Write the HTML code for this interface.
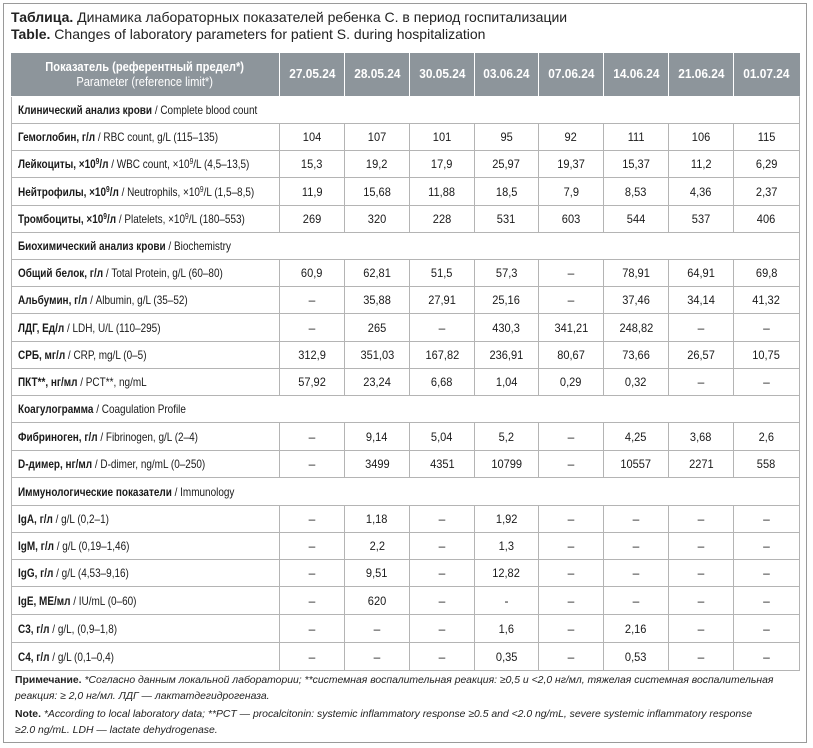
<!DOCTYPE html>
<html><head><meta charset="utf-8">
<style>
html,body{margin:0;padding:0;background:#fff;}
body{width:813px;height:748px;position:relative;overflow:hidden;font-family:"Liberation Sans","Noto Sans CJK SC",sans-serif;color:#1a1a1a;}
.frame{position:absolute;left:3px;top:3px;width:802px;height:738px;border:1px solid #9a9a9a;}
.title{position:absolute;left:11px;top:9px;font-size:14px;line-height:17px;white-space:nowrap;color:#222;}
.title b{font-weight:bold;}
table{position:absolute;left:11px;top:53px;border-collapse:separate;border-spacing:0;table-layout:fixed;width:789px;}
td,th{padding:0;border-right:1px solid #b4b4b4;border-bottom:1px solid #b4b4b4;overflow:visible;white-space:nowrap;box-sizing:border-box;}
tr td:first-child{border-left:1px solid #b4b4b4;}
th{background:#8d959b;color:#fff;border-right:1px solid #fff;border-bottom:1px solid #fff;font-family:"Liberation Sans",sans-serif;font-size:12.5px;font-weight:bold;line-height:15px;}
th:last-child{border-right:1px solid #8d959b;}
th.p{font-size:12.5px;}
th.p span.w{font-weight:normal;}
th .h{display:inline-block;transform:scaleX(0.89);transform-origin:50% 50%;}
th .d{display:inline-block;transform:scaleX(0.95);}
td{font-family:"Liberation Sans",sans-serif;font-size:12px;text-align:center;}
td .n{display:inline-block;transform:scaleX(0.92);}
td.l{text-align:left;padding-left:6px;font-size:12px;}
td.l b{font-weight:bold;}
td.s{text-align:left;padding-left:6px;font-size:12px;}
.c{display:inline-block;transform:scaleX(0.83);transform-origin:0 50%;}
.cs{display:inline-block;transform:scaleX(0.83);transform-origin:0 50%;}
sup{font-size:8px;vertical-align:4px;line-height:0;}
.notes{position:absolute;left:15px;top:673px;font-size:10.4px;line-height:16px;white-space:nowrap;color:#222;}
.notes i{font-style:italic;}
.notes b{font-weight:bold;}
</style></head><body>
<div class="frame"></div>
<div class="title"><b>Таблица.</b> Динамика лабораторных показателей ребенка С. в период госпитализации<br><b>Table.</b> Changes of laboratory parameters for patient S. during hospitalization</div>
<table>
<colgroup><col style="width:269px"><col style="width:65px"><col style="width:65px"><col style="width:65px"><col style="width:64px"><col style="width:65px"><col style="width:65px"><col style="width:65px"><col style="width:66px"></colgroup>
<tr style="height:44px"><th class="p"><span class="h">Показатель (референтный предел*)<br><span class="w">Parameter (reference limit*)</span></span></th><th><span class="d">27.05.24</span></th><th><span class="d">28.05.24</span></th><th><span class="d">30.05.24</span></th><th><span class="d">03.06.24</span></th><th><span class="d">07.06.24</span></th><th><span class="d">14.06.24</span></th><th><span class="d">21.06.24</span></th><th><span class="d">01.07.24</span></th></tr>
<tr style="height:27px"><td class="s" colspan="9"><span class="cs"><b>Клинический анализ крови</b> / Complete blood count</span></td></tr>
<tr style="height:27px"><td class="l"><span class="c"><b>Гемоглобин, г/л</b> / RBC count, g/L (115–135)</span></td><td><span class="n">104</span></td><td><span class="n">107</span></td><td><span class="n">101</span></td><td><span class="n">95</span></td><td><span class="n">92</span></td><td><span class="n">111</span></td><td><span class="n">106</span></td><td><span class="n">115</span></td></tr>
<tr style="height:27px"><td class="l"><span class="c"><b>Лейкоциты, ×10<sup>9</sup>/л</b> / WBC count, ×10<sup>9</sup>/L (4,5–13,5)</span></td><td><span class="n">15,3</span></td><td><span class="n">19,2</span></td><td><span class="n">17,9</span></td><td><span class="n">25,97</span></td><td><span class="n">19,37</span></td><td><span class="n">15,37</span></td><td><span class="n">11,2</span></td><td><span class="n">6,29</span></td></tr>
<tr style="height:28px"><td class="l"><span class="c"><b>Нейтрофилы, ×10<sup>9</sup>/л</b> / Neutrophils, ×10<sup>9</sup>/L (1,5–8,5)</span></td><td><span class="n">11,9</span></td><td><span class="n">15,68</span></td><td><span class="n">11,88</span></td><td><span class="n">18,5</span></td><td><span class="n">7,9</span></td><td><span class="n">8,53</span></td><td><span class="n">4,36</span></td><td><span class="n">2,37</span></td></tr>
<tr style="height:27px"><td class="l"><span class="c"><b>Тромбоциты, ×10<sup>9</sup>/л</b> / Platelets, ×10<sup>9</sup>/L (180–553)</span></td><td><span class="n">269</span></td><td><span class="n">320</span></td><td><span class="n">228</span></td><td><span class="n">531</span></td><td><span class="n">603</span></td><td><span class="n">544</span></td><td><span class="n">537</span></td><td><span class="n">406</span></td></tr>
<tr style="height:27px"><td class="s" colspan="9"><span class="cs"><b>Биохимический анализ крови</b> / Biochemistry</span></td></tr>
<tr style="height:27px"><td class="l"><span class="c"><b>Общий белок, г/л</b> / Total Protein, g/L (60–80)</span></td><td><span class="n">60,9</span></td><td><span class="n">62,81</span></td><td><span class="n">51,5</span></td><td><span class="n">57,3</span></td><td>–</td><td><span class="n">78,91</span></td><td><span class="n">64,91</span></td><td><span class="n">69,8</span></td></tr>
<tr style="height:27px"><td class="l"><span class="c"><b>Альбумин, г/л</b> / Albumin, g/L (35–52)</span></td><td>–</td><td><span class="n">35,88</span></td><td><span class="n">27,91</span></td><td><span class="n">25,16</span></td><td>–</td><td><span class="n">37,46</span></td><td><span class="n">34,14</span></td><td><span class="n">41,32</span></td></tr>
<tr style="height:28px"><td class="l"><span class="c"><b>ЛДГ, Ед/л</b> / LDH, U/L (110–295)</span></td><td>–</td><td><span class="n">265</span></td><td>–</td><td><span class="n">430,3</span></td><td><span class="n">341,21</span></td><td><span class="n">248,82</span></td><td>–</td><td>–</td></tr>
<tr style="height:27px"><td class="l"><span class="c"><b>СРБ, мг/л</b> / CRP, mg/L (0–5)</span></td><td><span class="n">312,9</span></td><td><span class="n">351,03</span></td><td><span class="n">167,82</span></td><td><span class="n">236,91</span></td><td><span class="n">80,67</span></td><td><span class="n">73,66</span></td><td><span class="n">26,57</span></td><td><span class="n">10,75</span></td></tr>
<tr style="height:27px"><td class="l"><span class="c"><b>ПКТ**, нг/мл</b> / PCT**, ng/mL</span></td><td><span class="n">57,92</span></td><td><span class="n">23,24</span></td><td><span class="n">6,68</span></td><td><span class="n">1,04</span></td><td><span class="n">0,29</span></td><td><span class="n">0,32</span></td><td>–</td><td>–</td></tr>
<tr style="height:27px"><td class="s" colspan="9"><span class="cs"><b>Коагулограмма</b> / Coagulation Profile</span></td></tr>
<tr style="height:28px"><td class="l"><span class="c"><b>Фибриноген, г/л</b> / Fibrinogen, g/L (2–4)</span></td><td>–</td><td><span class="n">9,14</span></td><td><span class="n">5,04</span></td><td><span class="n">5,2</span></td><td>–</td><td><span class="n">4,25</span></td><td><span class="n">3,68</span></td><td><span class="n">2,6</span></td></tr>
<tr style="height:27px"><td class="l"><span class="c"><b>D-димер, нг/мл</b> / D-dimer, ng/mL (0–250)</span></td><td>–</td><td><span class="n">3499</span></td><td><span class="n">4351</span></td><td><span class="n">10799</span></td><td>–</td><td><span class="n">10557</span></td><td><span class="n">2271</span></td><td><span class="n">558</span></td></tr>
<tr style="height:28px"><td class="s" colspan="9"><span class="cs"><b>Иммунологические показатели</b> / Immunology</span></td></tr>
<tr style="height:27px"><td class="l"><span class="c"><b>IgA, г/л</b> / g/L (0,2–1)</span></td><td>–</td><td><span class="n">1,18</span></td><td>–</td><td><span class="n">1,92</span></td><td>–</td><td>–</td><td>–</td><td>–</td></tr>
<tr style="height:27px"><td class="l"><span class="c"><b>IgM, г/л</b> / g/L (0,19–1,46)</span></td><td>–</td><td><span class="n">2,2</span></td><td>–</td><td><span class="n">1,3</span></td><td>–</td><td>–</td><td>–</td><td>–</td></tr>
<tr style="height:27px"><td class="l"><span class="c"><b>IgG, г/л</b> / g/L (4,53–9,16)</span></td><td>–</td><td><span class="n">9,51</span></td><td>–</td><td><span class="n">12,82</span></td><td>–</td><td>–</td><td>–</td><td>–</td></tr>
<tr style="height:28px"><td class="l"><span class="c"><b>IgE, МЕ/мл</b> / IU/mL (0–60)</span></td><td>–</td><td><span class="n">620</span></td><td>–</td><td>-</td><td>–</td><td>–</td><td>–</td><td>–</td></tr>
<tr style="height:28px"><td class="l"><span class="c"><b>С3, г/л</b> / g/L, (0,9–1,8)</span></td><td>–</td><td>–</td><td>–</td><td><span class="n">1,6</span></td><td>–</td><td><span class="n">2,16</span></td><td>–</td><td>–</td></tr>
<tr style="height:28px"><td class="l"><span class="c"><b>С4, г/л</b> / g/L (0,1–0,4)</span></td><td>–</td><td>–</td><td>–</td><td><span class="n">0,35</span></td><td>–</td><td><span class="n">0,53</span></td><td>–</td><td>–</td></tr>
</table>
<div class="notes"><b>Примечание.</b> <i>*Согласно данным локальной лаборатории; **системная воспалительная реакция: ≥0,5 и &lt;2,0 нг/мл, тяжелая системная воспалительная</i><br><i>реакция: ≥ 2,0 нг/мл. ЛДГ — лактатдегидрогеназа.</i><div style="height:2px"></div><b>Note.</b> <i>*According to local laboratory data; **PCT — procalcitonin: systemic inflammatory response ≥0.5 and &lt;2.0 ng/mL, severe systemic inflammatory response</i><br><i>≥2.0 ng/mL. LDH — lactate dehydrogenase.</i></div>
</body></html>
